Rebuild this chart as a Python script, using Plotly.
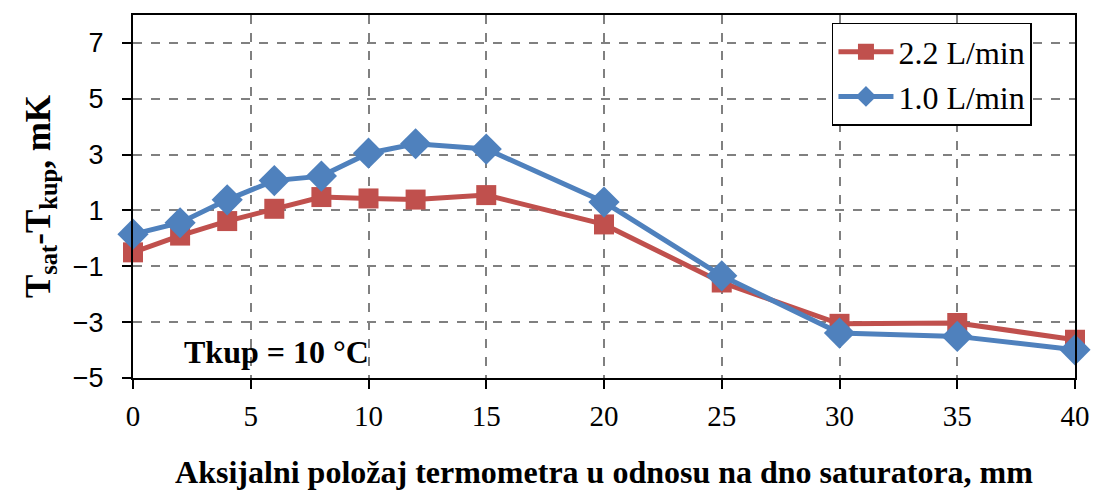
import plotly.graph_objects as go

x_pos = [0, 2, 4, 6, 8, 10, 12, 15, 20, 25, 30, 35, 40]
flow_22 = [-0.5, 0.1, 0.62, 1.06, 1.48, 1.43, 1.39, 1.55, 0.5, -1.58, -3.06, -3.03, -3.63]
flow_10 = [0.15, 0.56, 1.38, 2.07, 2.23, 3.05, 3.39, 3.2, 1.3, -1.34, -3.39, -3.51, -3.99]
series_names = ["2.2 L/min", "1.0 L/min"]
x_ticks = [0, 5, 10, 15, 20, 25, 30, 35, 40]
y_ticks = [-5, -3, -1, 1, 3, 5, 7]

RED = "#C0504D"
BLUE = "#4F81BD"
SERIF = "Liberation Serif"

fig = go.Figure()
fig.add_trace(go.Scatter(
    x=x_pos, y=flow_22, name=series_names[0], mode="lines+markers",
    line=dict(color=RED, width=5),
    marker=dict(symbol="square", size=20, color=RED),
    cliponaxis=False,
))
fig.add_trace(go.Scatter(
    x=x_pos, y=flow_10, name=series_names[1], mode="lines+markers",
    line=dict(color=BLUE, width=5),
    marker=dict(symbol="diamond", size=24, color=BLUE),
    cliponaxis=False,
))

fig.update_layout(
    width=1094, height=501,
    margin=dict(l=133, r=19, t=15, b=123, autoexpand=False),
    paper_bgcolor="white", plot_bgcolor="white",
    showlegend=True,
    legend=dict(
        x=0.742, y=0.978, xanchor="left", yanchor="top",
        bgcolor="white", bordercolor="black", borderwidth=1.5,
        font=dict(family=SERIF, size=32, color="black"),
        itemwidth=55, tracegroupgap=0,
    ),
    xaxis=dict(
        range=[0, 40], tickvals=x_ticks, ticktext=[str(v) for v in x_ticks],
        showline=True, linecolor="black", linewidth=2, mirror=True,
        ticks="outside", ticklen=9, tickwidth=2, tickcolor="black",
        showgrid=True, gridcolor="#808080", gridwidth=1.5, griddash="dash",
        zeroline=False, automargin=False,
        tickfont=dict(family=SERIF, size=29, color="black"),
        ticklabelstandoff=2,
        title=dict(text="<b>Aksijalni položaj termometra u odnosu na dno saturatora, mm</b>",
                   font=dict(family=SERIF, size=32, color="black"), standoff=30),
    ),
    yaxis=dict(
        range=[-5, 8], tickvals=y_ticks,
        showline=True, linecolor="black", linewidth=2, mirror=True,
        ticks="outside", ticklen=9, tickwidth=2, tickcolor="black",
        showgrid=True, gridcolor="#808080", gridwidth=1.5, griddash="dash",
        zeroline=False, automargin=False,
        tickfont=dict(family="Liberation Sans", size=27, color="black"),
        ticklabelstandoff=13,
        title=dict(text="<b>T<sub>sat</sub>-T<sub>kup</sub>, mK</b>",
                   font=dict(family=SERIF, size=35, color="black"), standoff=12),
    ),
    annotations=[dict(
        text="<b>Tkup = 10 °C</b>", xref="paper", yref="paper",
        x=0.052, y=0.072, xanchor="left", yanchor="middle", showarrow=False,
        font=dict(family=SERIF, size=32, color="black"),
    )],
)

fig.write_html("out.html", config={"displayModeBar": False},
               post_script="document.body.style.margin='0';document.body.style.padding='0';")
